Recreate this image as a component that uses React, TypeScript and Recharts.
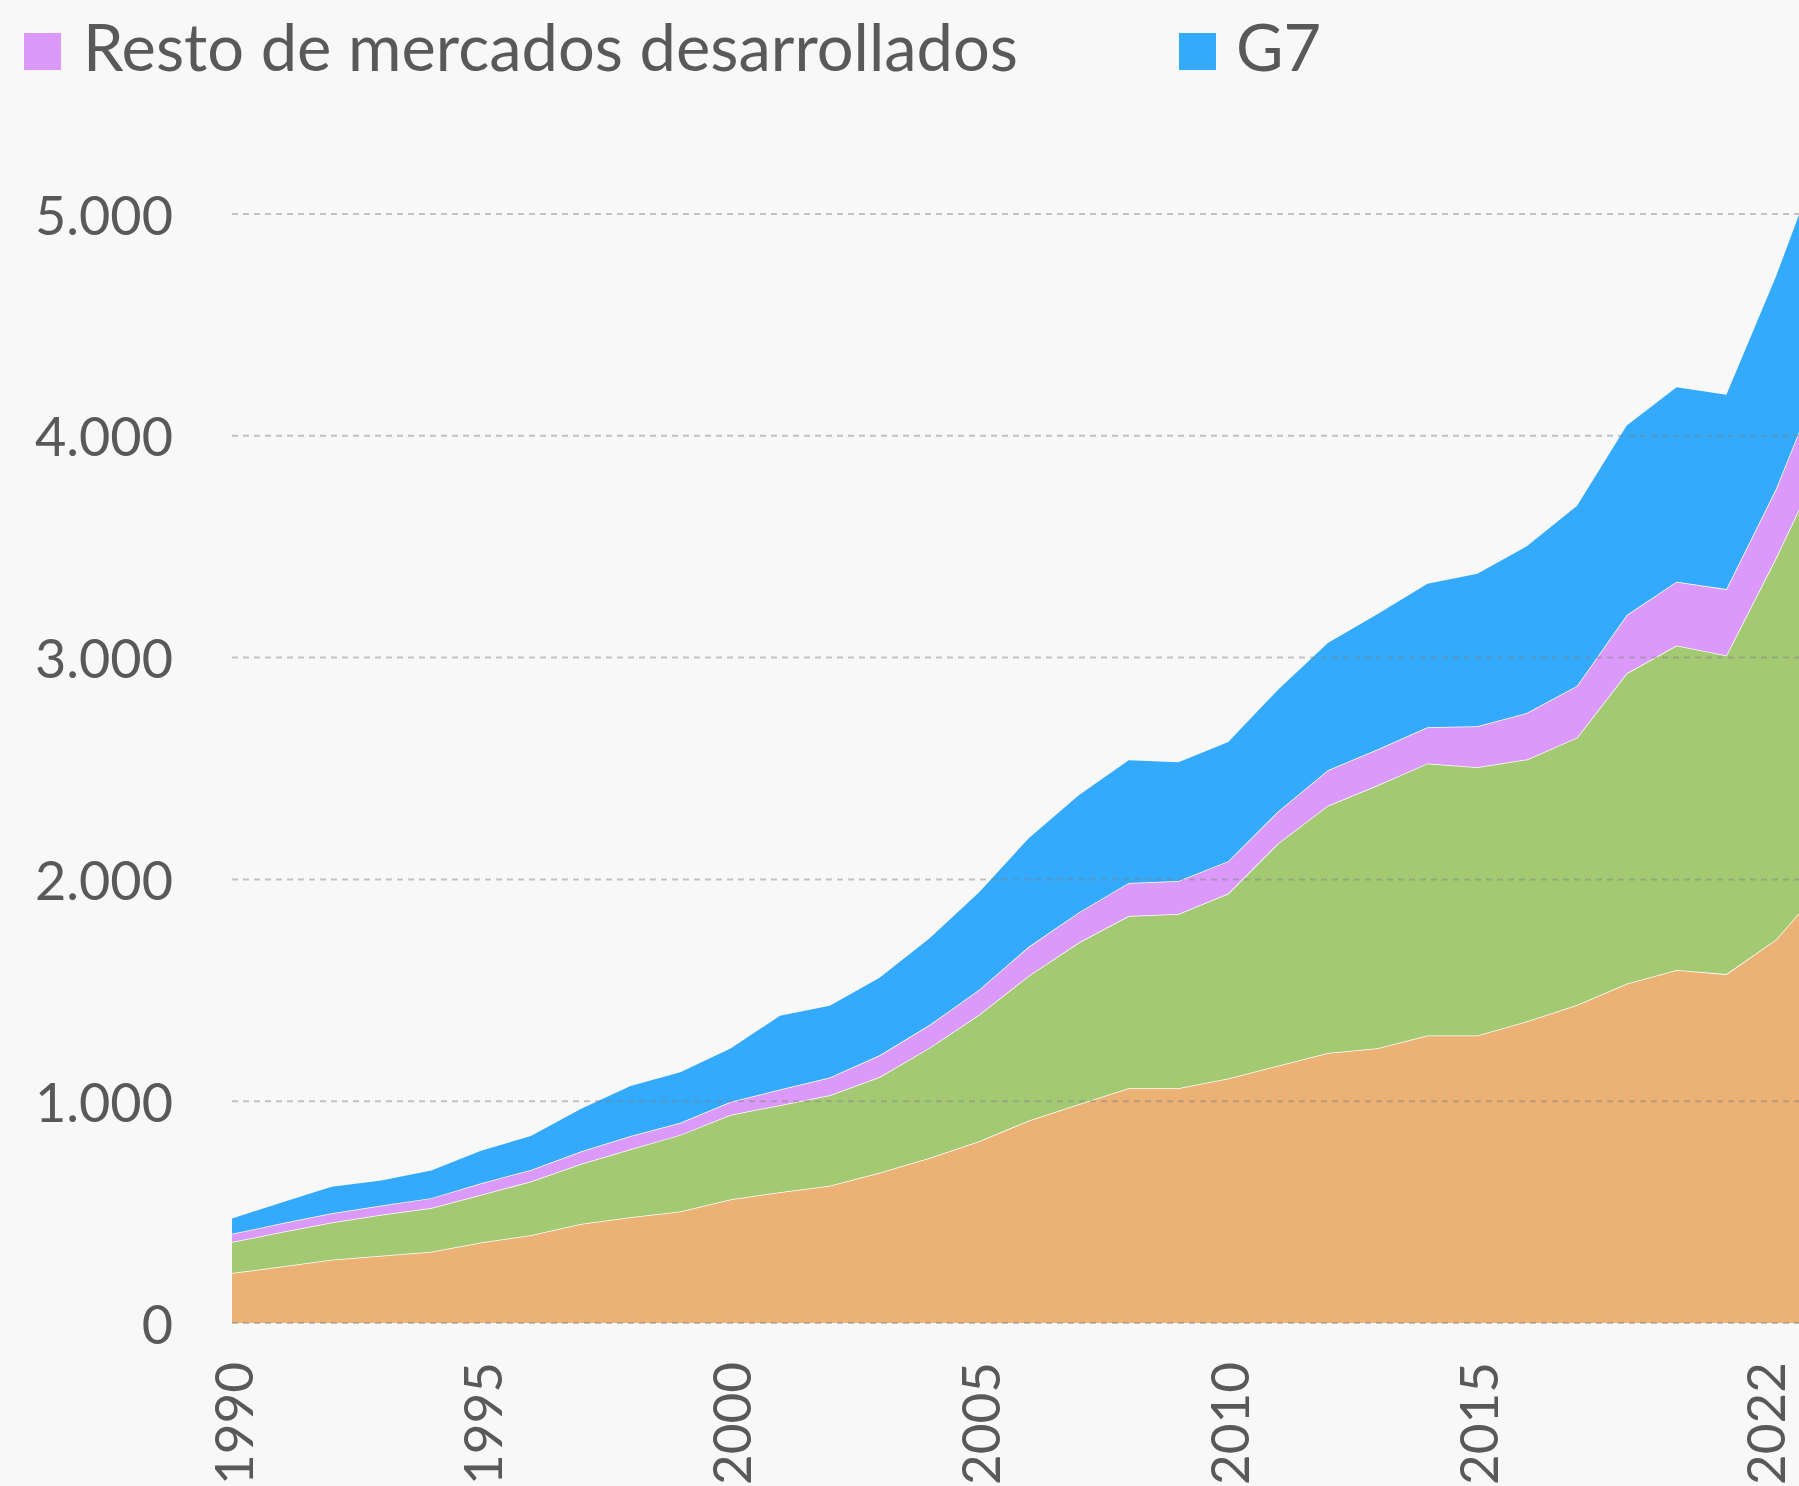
import { Area, AreaChart, ReferenceLine, XAxis, YAxis } from "recharts";

const years = [
  1990, 1991, 1992, 1993, 1994, 1995, 1996, 1997, 1998, 1999, 2000, 2001, 2002, 2003, 2004, 2005, 2006,
  2007, 2008, 2009, 2010, 2011, 2012, 2013, 2014, 2015, 2016, 2017, 2018, 2019, 2020, 2021, 2022,
];

const china = [
  225, 255, 285, 303, 321, 363, 396, 446, 477, 503, 557, 590, 619, 677, 744, 819, 913,
  986, 1058, 1058, 1102, 1160, 1217, 1239, 1296, 1296, 1360, 1434, 1529, 1591, 1573, 1729, 1988,
];

const restoEmergentes = [
  140, 155, 168, 185, 197, 215, 242, 271, 306, 345, 381, 392, 408, 432, 496, 571, 653,
  729, 777, 786, 834, 1002, 1115, 1185, 1227, 1210, 1181, 1205, 1400, 1463, 1437, 1722, 1935,
];

const restoDesarrollados = [
  37, 40, 42, 42, 45, 52, 52, 56, 60, 55, 58, 71, 80, 98, 103, 113, 131,
  136, 149, 149, 146, 144, 160, 163, 163, 185, 210, 233, 263, 288, 299, 311, 397,
];

const g7 = [
  69, 93, 119, 112, 124, 147, 153, 192, 225, 227, 241, 332, 323, 350, 390, 439, 490,
  528, 553, 535, 538, 549, 574, 610, 647, 687, 752, 812, 855, 877, 876, 958, 1003,
];

const xTicks = [1990, 1995, 2000, 2005, 2010, 2015, 2022];
const yTicks = [0, 1000, 2000, 3000, 4000, 5000];

const data = years.map((year, i) => ({
  year,
  china: china[i],
  restoEmergentes: restoEmergentes[i],
  restoDesarrollados: restoDesarrollados[i],
  g7: g7[i],
}));

const TEXT = "#595959";
const FONT = "Lato, 'Open Sans', sans-serif";

const fmt = (v: number) => String(v).replace(/\B(?=(\d{3})+(?!\d))/g, ".");

function YTick({ x, y, payload }: any) {
  return (
    <text x={x - 59} y={y} textAnchor="end" dominantBaseline="central" fill={TEXT} fontSize={54} fontFamily={FONT}>
      {fmt(payload.value)}
    </text>
  );
}

function XTick({ x, y, payload }: any) {
  // last label is pulled back inside the visible area
  const cx = Math.min(x, 1764);
  const ty = y + 39;
  return (
    <text
      x={cx}
      y={ty}
      transform={`rotate(-90, ${cx}, ${ty})`}
      textAnchor="end"
      dominantBaseline="central"
      fill={TEXT}
      fontSize={53}
      fontFamily={FONT}
    >
      {payload.value}
    </text>
  );
}

export default function App() {
  return (
    <div
      style={{
        position: "absolute",
        left: 0,
        top: 0,
        width: 1799,
        height: 1486,
        overflow: "hidden",
        background: "#f8f8f8",
      }}
    >
      <svg width={1799} height={110} style={{ position: "absolute", left: 0, top: 0 }}>
        <rect x={24} y={33} width={37} height={37} fill="#db9af9" />
        <text x={83} y={71} fill={TEXT} fontSize={65} fontFamily={FONT}>
          Resto de mercados desarrollados
        </text>
        <rect x={1179} y={33} width={37} height={37} fill="#33aafb" />
        <text x={1236} y={71} fill={TEXT} fontSize={65} fontFamily={FONT}>
          G7
        </text>
      </svg>
      <div style={{ position: "absolute", left: 0, top: 0 }}>
        <AreaChart width={1860} height={1486} data={data} margin={{ top: 214, right: 34, left: 0, bottom: 0 }}>
          <XAxis
            dataKey="year"
            type="number"
            domain={[1990, 2022]}
            ticks={xTicks}
            interval={0}
            axisLine={false}
            tickLine={false}
            tickSize={0}
            tickMargin={0}
            height={163}
            tick={<XTick />}
          />
          <YAxis
            domain={[0, 5000]}
            ticks={yTicks}
            allowDataOverflow
            axisLine={false}
            tickLine={false}
            tickSize={0}
            tickMargin={0}
            width={232}
            tick={<YTick />}
          />
          <Area type="linear" dataKey="china" name="China" stackId="1" fill="#ebb175" fillOpacity={1} stroke="#ffffff" strokeWidth={1.5} isAnimationActive={false} />
          <Area type="linear" dataKey="restoEmergentes" name="Resto de mercados emergentes" stackId="1" fill="#a3ca72" fillOpacity={1} stroke="#ffffff" strokeWidth={1.5} isAnimationActive={false} />
          <Area type="linear" dataKey="restoDesarrollados" name="Resto de mercados desarrollados" stackId="1" fill="#db9af9" fillOpacity={1} stroke="#ffffff" strokeWidth={1.5} isAnimationActive={false} />
          <Area type="linear" dataKey="g7" name="G7" stackId="1" fill="#33aafb" fillOpacity={1} stroke="none" isAnimationActive={false} />
          {yTicks.map((t) => (
            <ReferenceLine key={t} y={t} stroke="#808080" strokeOpacity={0.45} strokeWidth={2} strokeDasharray="6 5" />
          ))}
        </AreaChart>
      </div>
    </div>
  );
}
